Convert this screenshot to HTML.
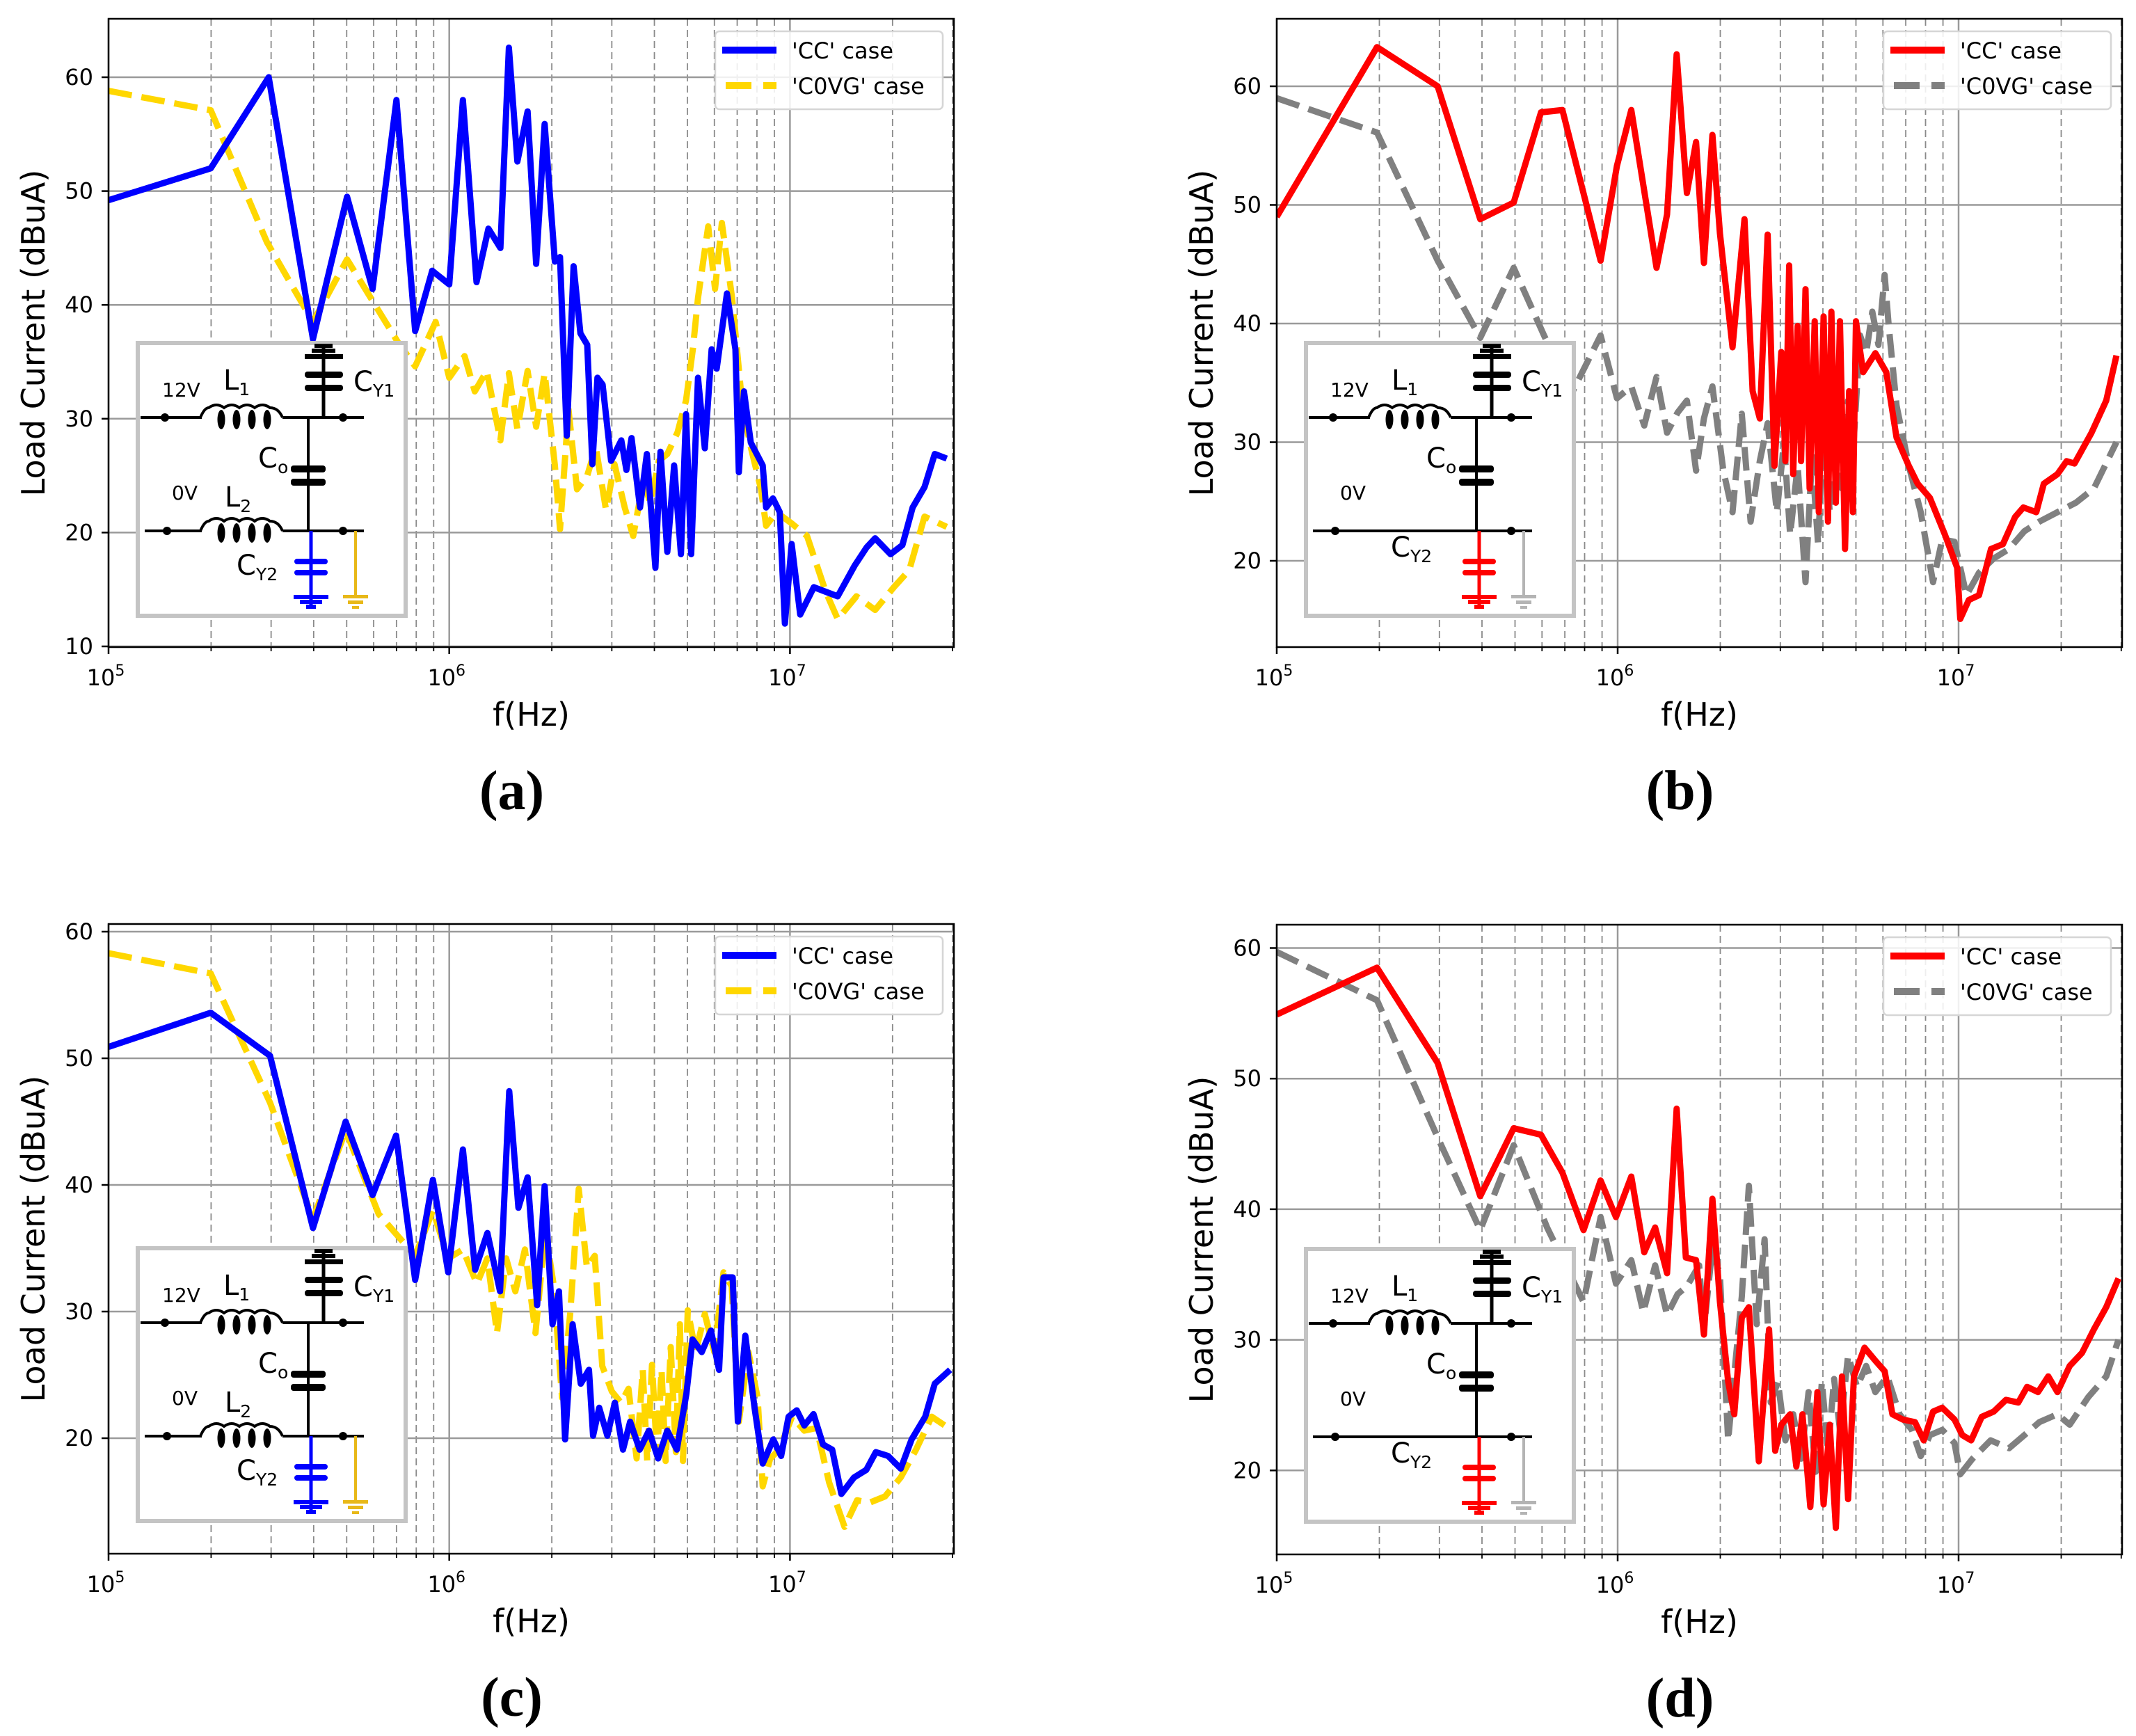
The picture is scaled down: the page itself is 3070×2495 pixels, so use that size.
<!DOCTYPE html>
<html><head><meta charset="utf-8"><style>
html,body{margin:0;padding:0;background:#fff;}
svg{display:block;}
text{font-family:"DejaVu Sans","Liberation Sans",sans-serif;}
</style></head><body>
<svg id="fig" xmlns="http://www.w3.org/2000/svg" width="3070" height="2495" viewBox="0 0 3070 2495">
<rect x="0" y="0" width="3070" height="2495" fill="#fff"/>
</svg>
<script>
// ---- data (log10 frequency, dBuA) ----
const aCCf=[5,5.30,5.47,5.60,5.70,5.775,5.845,5.90,5.95,6.0,6.04,6.08,6.115,6.15,6.175,6.20,6.23,6.255,6.28,6.31,6.325,6.345,6.365,6.385,6.405,6.42,6.435,6.45,6.475,6.505,6.52,6.535,6.56,6.58,6.605,6.62,6.64,6.66,6.68,6.695,6.71,6.73,6.75,6.77,6.785,6.815,6.84,6.85,6.865,6.885,6.92,6.93,6.95,6.97,6.985,7.005,7.03,7.07,7.105,7.14,7.19,7.225,7.25,7.295,7.33,7.36,7.395,7.425,7.46];
const aCCv=[49.2,52,60,37,49.5,41.4,58,37.7,43,41.8,58,42,46.7,45,62.6,52.6,57,43.6,55.9,43.8,44.2,28.5,43.4,37.5,36.5,26,33.6,33,26.3,28.1,25.5,28.3,22.2,26.9,16.9,27.1,18.3,25.9,18.1,30.4,18.1,33.6,27.4,36.1,34.4,41,36.1,25.3,32.4,27.9,25.9,22.2,23,21.8,12,19,12.8,15.2,14.8,14.4,17.1,18.7,19.5,18.1,18.9,22.2,24,26.9,26.5];
const aCVf=[5,5.30,5.465,5.60,5.70,5.85,5.90,5.96,6.0,6.045,6.075,6.11,6.15,6.175,6.20,6.23,6.255,6.28,6.31,6.325,6.35,6.375,6.405,6.43,6.46,6.485,6.515,6.54,6.57,6.59,6.615,6.64,6.67,6.695,6.715,6.73,6.76,6.78,6.80,6.83,6.86,6.885,6.915,6.93,6.96,7.005,7.05,7.105,7.14,7.195,7.25,7.305,7.35,7.395,7.46];
const aCVv=[58.8,57.1,45.5,38.5,44,36.7,34.6,38.5,33.6,35.5,32.4,34.2,28.1,34,29.1,34.2,29.3,34,25.9,20.3,30.8,23.8,25,27.5,22,26,22.2,19.7,24.6,22.6,26.3,26.9,28.8,31.6,36.1,40.6,46.9,41.4,47.2,40.6,31.2,27.5,23.8,20.6,21.8,20.8,19.7,14.8,12.4,14.4,13.2,15.2,16.7,21.4,20.5];
const bCCf=[5,5.294,5.472,5.597,5.695,5.775,5.838,5.95,5.998,6.04,6.114,6.145,6.173,6.203,6.23,6.253,6.278,6.30,6.337,6.372,6.396,6.417,6.44,6.46,6.48,6.492,6.503,6.515,6.528,6.538,6.551,6.563,6.578,6.59,6.604,6.617,6.627,6.64,6.652,6.667,6.679,6.69,6.699,6.72,6.756,6.788,6.818,6.854,6.88,6.916,6.96,6.996,7.005,7.03,7.06,7.095,7.13,7.166,7.19,7.228,7.25,7.29,7.317,7.34,7.39,7.433,7.463];
const bCCv=[49,63.3,60,48.8,50.2,57.8,58,45.3,53.3,58,44.7,49.2,62.7,51,55.3,45.1,55.9,47.6,38,48.8,34.3,32,47.5,28,37.6,28.4,44.9,27.3,39.8,28.4,42.9,26.1,40.2,24.1,40.6,23.3,41,24.9,40.2,21,34.3,24.1,40.2,35.9,37.5,35.9,30.4,28,26.5,25.3,22.2,19.4,15.1,16.7,17.1,21,21.4,23.7,24.5,24.1,26.5,27.3,28.4,28.2,30.8,33.5,37.3];
const bCVf=[5,5.294,5.472,5.597,5.695,5.784,5.865,5.95,5.998,6.04,6.078,6.114,6.145,6.176,6.203,6.23,6.253,6.278,6.31,6.337,6.364,6.39,6.417,6.44,6.467,6.488,6.506,6.528,6.551,6.57,6.588,6.604,6.622,6.64,6.658,6.676,6.693,6.711,6.729,6.747,6.765,6.783,6.795,6.818,6.854,6.889,6.925,6.952,6.988,7.023,7.06,7.103,7.148,7.193,7.237,7.29,7.344,7.397,7.463];
const bCVv=[59,56.1,45.3,38.8,44.7,39,34.1,39,33.7,34.7,31.4,35.5,30.8,32.5,33.5,27.6,32,34.7,27.6,24.1,32.4,23.3,28.4,31.6,24.1,30,22.2,28,18.2,28.8,21.4,31.2,24.1,33.1,26.1,33.5,30.4,39,37.5,41,38.2,44.1,39.8,33.1,28,24.1,18.2,21.8,21.6,17.1,19,20.2,21,22.5,23.3,24.1,24.9,26.1,30];
const cCCf=[5,5.30,5.474,5.60,5.696,5.775,5.844,5.90,5.952,5.997,6.04,6.076,6.112,6.149,6.176,6.203,6.23,6.258,6.28,6.303,6.322,6.34,6.362,6.386,6.41,6.422,6.44,6.464,6.486,6.51,6.531,6.559,6.586,6.613,6.64,6.668,6.696,6.714,6.741,6.768,6.792,6.805,6.832,6.847,6.869,6.896,6.92,6.951,6.974,6.996,7.02,7.042,7.069,7.097,7.124,7.151,7.188,7.224,7.252,7.288,7.325,7.357,7.397,7.425,7.47];
const cCCv=[50.9,53.6,50.2,36.6,45,39.2,43.9,32.5,40.4,33.1,42.8,33.3,36.2,31.6,47.4,38.2,40.6,30.5,39.9,29,31.6,19.9,29,24.3,25.4,20.2,22.4,20.2,22.8,19.1,21.3,19.1,20.6,18.4,20.6,19.1,23.5,27.8,26.8,28.5,25.4,32.7,32.7,21.3,28.1,22.4,18,19.9,18.6,21.7,22.2,21,21.9,19.5,19.1,15.6,16.9,17.5,18.9,18.6,17.6,19.9,21.7,24.3,25.4];
const cCVf=[5,5.30,5.474,5.60,5.696,5.793,5.90,5.952,5.997,6.04,6.081,6.112,6.14,6.167,6.194,6.222,6.253,6.282,6.307,6.331,6.355,6.38,6.404,6.427,6.449,6.477,6.504,6.526,6.55,6.568,6.581,6.595,6.61,6.623,6.635,6.65,6.665,6.677,6.686,6.70,6.723,6.75,6.778,6.805,6.829,6.85,6.878,6.905,6.92,6.942,6.969,7.006,7.042,7.078,7.115,7.16,7.197,7.233,7.279,7.325,7.37,7.416,7.46];
const cCVv=[58.3,56.7,46.5,37.3,44.3,37.7,34.4,38,34.2,34.9,32.2,34.2,28.3,34.2,31.6,34.9,28.3,36.4,32,23.2,29.8,39.7,33.5,34.4,25.7,23.7,22.8,23.9,18.4,25.4,18.2,25.8,18.6,25.4,18.2,27.2,18.9,29,18.2,30.1,26.8,29.8,26.8,33.1,32,21.3,26.8,23.2,16.2,18.4,19.1,21.7,20.6,20.8,16.5,13,15.1,14.9,15.4,16.9,19.1,21.7,20.9];
const dCCf=[5,5.294,5.472,5.597,5.695,5.775,5.838,5.90,5.95,5.995,6.04,6.078,6.11,6.145,6.173,6.2,6.23,6.253,6.278,6.30,6.324,6.342,6.364,6.385,6.414,6.444,6.462,6.48,6.506,6.524,6.542,6.565,6.586,6.604,6.622,6.64,6.658,6.676,6.693,6.724,6.756,6.783,6.806,6.836,6.872,6.898,6.925,6.952,6.988,7.011,7.037,7.068,7.103,7.139,7.175,7.201,7.233,7.263,7.29,7.326,7.362,7.397,7.433,7.469];
const dCCv=[54.9,58.5,51.2,41,46.2,45.7,42.8,38.4,42.2,39.4,42.5,36.7,38.6,35.1,47.7,36.3,36.1,30.4,40.8,32.9,26.8,24.3,31.7,32.5,20.7,30.8,21.5,23.5,24.3,20.3,24.3,17.2,26,17.4,23.5,15.6,27.2,17.8,27.2,29.4,28.4,27.6,24.3,23.9,23.7,22.3,24.5,24.8,23.9,22.7,22.3,24.1,24.5,25.4,25.2,26.4,26,27.2,26,28,29,30.8,32.5,34.7];
const dCVf=[5,5.294,5.472,5.597,5.695,5.793,5.90,5.95,5.995,6.04,6.075,6.11,6.145,6.176,6.203,6.239,6.253,6.278,6.30,6.324,6.346,6.364,6.385,6.408,6.431,6.449,6.47,6.492,6.515,6.538,6.56,6.581,6.599,6.617,6.635,6.652,6.676,6.702,6.729,6.756,6.791,6.827,6.863,6.889,6.916,6.952,6.988,7.005,7.041,7.094,7.148,7.193,7.237,7.29,7.326,7.38,7.433,7.469];
const dCVv=[59.7,56,45.5,38.4,44.9,38.6,32.9,39.4,34.3,36.1,32.1,35.7,31.9,33.5,34.1,35.7,30.8,37.1,34.9,22.3,28.4,33.3,41.8,31.2,37.7,25.2,26.8,22.3,24.3,20.9,26,19.9,26.8,21.5,27,23.1,28.8,26.4,28,26,27.2,24.3,23.1,21.1,22.7,23.1,22.1,19.7,20.9,22.3,21.7,22.7,23.7,24.3,23.5,25.6,27.2,30];
const aTicks=[10,20,30,40,50,60];
const bTicks=[20,30,40,50,60];
const cTicks=[20,30,40,50,60];
const dTicks=[20,30,40,50,60];
const decadeExps=[5,6,7];
const seriesNames=["'CC' case","'C0VG' case"];

const NS='http://www.w3.org/2000/svg';
const svg=document.getElementById('fig');
function el(tag,attrs,parent){const e=document.createElementNS(NS,tag);for(const k in attrs)e.setAttribute(k,attrs[k]);(parent||svg).appendChild(e);return e;}

const panels=[
 {id:'a',L:156,R:1371,T:27,B:930,dec:489.7,y0:111,k:16.36,ticks:aTicks,f1:aCCf,v1:aCCv,f2:aCVf,v2:aCVv,c1:'#0000ff',c2:'#ffd700',gnd:'#e8b818',l2:true,dx:0,dy:0,lab:'(a)'},
 {id:'b',L:1835,R:3050,T:27,B:930,dec:490,y0:124,k:17.05,ticks:bTicks,f1:bCCf,v1:bCCv,f2:bCVf,v2:bCVv,c1:'#ff0000',c2:'#808080',gnd:'#b4b4b4',l2:false,dx:1679,dy:0,lab:'(b)'},
 {id:'c',L:156,R:1371,T:1328,B:2233,dec:489.7,y0:1339,k:18.2,ticks:cTicks,f1:cCCf,v1:cCCv,f2:cCVf,v2:cCVv,c1:'#0000ff',c2:'#ffd700',gnd:'#e8b818',l2:true,dx:0,dy:1301,lab:'(c)'},
 {id:'d',L:1835,R:3050,T:1329,B:2234,dec:490,y0:1362.5,k:18.77,ticks:dTicks,f1:dCCf,v1:dCCv,f2:dCVf,v2:dCVv,c1:'#ff0000',c2:'#808080',gnd:'#b4b4b4',l2:false,dx:1679,dy:1302,lab:'(d)'}
];

panels.forEach(p=>{
 const X=lf=>p.L+(lf-5)*p.dec;
 const Y=v=>p.y0-(v-60)*p.k;
 const g=el('g',{});
 
 
 const cp=el('clipPath',{id:'clip'+p.id},g);
 el('rect',{x:p.L,y:p.T,width:p.R-p.L,height:p.B-p.T},cp);
 // grid
 const grid=el('g',{},g);
 
 
 decadeExps.forEach(e=>{
  for(let m=1;m<10;m++){
   const lf=e+Math.log10(m);const x=X(lf);
   if(x<p.L-1||x>p.R+1)continue;
   if(m===1){el('line',{x1:x,y1:p.T,x2:x,y2:p.B,stroke:'#9a9a9a','stroke-width':2.5},grid);
     el('line',{x1:x,y1:p.B,x2:x,y2:p.B+10,stroke:'#000','stroke-width':2.5},grid);}
   else{el('line',{x1:x,y1:p.T,x2:x,y2:p.B,stroke:'#8a8a8a','stroke-width':1.8,'stroke-dasharray':'10,6'},grid);
     el('line',{x1:x,y1:p.B,x2:x,y2:p.B+6,stroke:'#000','stroke-width':1.8},grid);}
  }
 });
 p.ticks.forEach(v=>{const y=Y(v);
  el('line',{x1:p.L,y1:y,x2:p.R,y2:y,stroke:'#9a9a9a','stroke-width':2.5},grid);
  el('line',{x1:p.L-10,y1:y,x2:p.L,y2:y,stroke:'#000','stroke-width':2.5},grid);
  const t=el('text',{x:p.L-22,y:y+11,'font-size':32,'text-anchor':'end',fill:'#000'},grid);t.textContent=v;
  
  
 });
 decadeExps.forEach(e=>{const x=X(e);
  const t=el('text',{x:x-4,y:p.B+55,'font-size':32,'text-anchor':'middle',fill:'#000'},g);
  
  
  t.textContent='10';
  const s=el('tspan',{'font-size':22,dy:-14},t);s.textContent=String(e);
 });
 // series
 function series(fs,vs,col,dash,name){
  const n=Math.min(fs.length,vs.length);let d='';
  for(let i=0;i<n;i++)d+=(i?'L':'M')+X(fs[i]).toFixed(1)+','+Y(vs[i]).toFixed(1);
  const a={d:d,fill:'none',stroke:col,'stroke-width':9,'stroke-linejoin':'round','clip-path':'url(#clip'+p.id+')'};
  if(dash)a['stroke-dasharray']=dash;
  const path=el('path',a,g);
  
  
 }
 series(p.f2,p.v2,p.c2,'34,14','series-c0vg-'+p.id);
 series(p.f1,p.v1,p.c1,null,'series-cc-'+p.id);
 // inset circuit
 const ig=el('g',{transform:'translate('+p.dx+','+p.dy+')'},g);
 
 
 el('rect',{x:198,y:493,width:385,height:392,fill:'#fff',stroke:'#c4c4c4','stroke-width':6},ig);
 const K='#000';
 function coil(x1,y){let d='M'+(x1-12)+','+y+' Q'+(x1-6)+','+(y-14)+' '+x1+','+(y-14);
  for(let i=0;i<4;i++){const cx=x1+11+i*22;d+=' Q'+(cx)+','+(y-22)+' '+(cx+11)+','+(y-14);}
  d+=' Q'+(x1+100)+','+(y-14)+' '+(x1+106)+','+y;
  el('path',{d:d,fill:'none',stroke:K,'stroke-width':4},ig);
  for(let i=0;i<4;i++)el('ellipse',{cx:x1+18+i*22,cy:y+3,rx:5.5,ry:14,fill:K},ig);}
 // 12V rail
 el('line',{x1:202,y1:600,x2:290,y2:600,stroke:K,'stroke-width':4},ig);
 el('line',{x1:406,y1:600,x2:523,y2:600,stroke:K,'stroke-width':4},ig);
 coil(300,600);
 el('circle',{cx:237,cy:600,r:6,fill:K},ig);el('circle',{cx:493,cy:600,r:6,fill:K},ig);
 // CY1
 el('line',{x1:465,y1:600,x2:465,y2:500,stroke:K,'stroke-width':5},ig);
 el('rect',{x:452,y:494,width:26,height:6,fill:K},ig);
 el('rect',{x:448,y:501,width:34,height:6,fill:K},ig);
 el('rect',{x:438,y:509,width:55,height:7,fill:K},ig);
 el('rect',{x:438,y:534,width:55,height:9,rx:4,fill:K},ig);
 el('rect',{x:438,y:553,width:55,height:9,rx:4,fill:K},ig);
 // Co
 el('line',{x1:443,y1:600,x2:443,y2:763,stroke:K,'stroke-width':4},ig);
 el('rect',{x:418,y:669,width:50,height:10,rx:4,fill:K},ig);
 el('rect',{x:418,y:688,width:50,height:10,rx:4,fill:K},ig);
 // 0V rail
 if(p.l2){el('line',{x1:208,y1:763,x2:290,y2:763,stroke:K,'stroke-width':4},ig);
  el('line',{x1:406,y1:763,x2:523,y2:763,stroke:K,'stroke-width':4},ig);coil(300,763);}
 else el('line',{x1:208,y1:763,x2:523,y2:763,stroke:K,'stroke-width':4},ig);
 el('circle',{cx:240,cy:763,r:6,fill:K},ig);el('circle',{cx:493,cy:763,r:6,fill:K},ig);
 // CY2
 const C1=p.c1;
 el('line',{x1:447,y1:763,x2:447,y2:873,stroke:C1,'stroke-width':5},ig);
 el('rect',{x:423,y:803,width:48,height:8,rx:4,fill:C1},ig);
 el('rect',{x:423,y:819,width:48,height:8,rx:4,fill:C1},ig);
 el('rect',{x:422,y:855,width:50,height:6,fill:C1},ig);
 el('rect',{x:431,y:862,width:32,height:6,fill:C1},ig);
 el('rect',{x:440,y:869,width:14,height:6,fill:C1},ig);
 // ground wire
 const G=p.gnd;
 el('line',{x1:511,y1:763,x2:511,y2:857,stroke:G,'stroke-width':4},ig);
 el('rect',{x:493,y:855,width:36,height:5,fill:G},ig);
 el('rect',{x:500,y:863,width:22,height:5,fill:G},ig);
 el('rect',{x:506,y:871,width:10,height:4,fill:G},ig);
 function lbl(x,y,main,sub,fs){const t=el('text',{x:x,y:y,'font-size':fs,fill:K},ig);t.textContent=main;
  if(sub){const s=el('tspan',{'font-size':Math.round(fs*0.62),dy:8},t);s.textContent=sub;}return t;}
 lbl(233,570,'12V',null,28);
 lbl(321,560,'L','1',40);
 lbl(508,562,'C','Y1',40);
 lbl(371,672,'C','o',40);
 lbl(247,718,'0V',null,28);
 if(p.l2){lbl(323,728,'L','2',40);lbl(340,826,'C','Y2',40);}
 else lbl(320,800,'C','Y2',40);
 // legend
 const lg=el('g',{},g);
 
 
 const lx=p.R-343,ly=p.T+18;
 el('rect',{x:lx,y:ly,width:327,height:112,rx:6,fill:'#fff','fill-opacity':0.85,stroke:'#d6d6d6','stroke-width':2.5},lg);
 el('line',{x1:lx+10,y1:ly+27,x2:lx+88,y2:ly+27,stroke:p.c1,'stroke-width':10},lg);
 el('line',{x1:lx+15,y1:ly+78,x2:lx+88,y2:ly+78,stroke:p.c2,'stroke-width':10,'stroke-dasharray':'37,17'},lg);
 const t1=el('text',{x:lx+110,y:ly+39,'font-size':32,fill:'#000'},lg);t1.textContent=seriesNames[0];
 const t2=el('text',{x:lx+110,y:ly+90,'font-size':32,fill:'#000'},lg);t2.textContent=seriesNames[1];
 // frame
 el('rect',{x:p.L,y:p.T,width:p.R-p.L,height:p.B-p.T,fill:'none',stroke:'#000','stroke-width':2.5},g);
 // axis titles
 const cx=(p.L+p.R)/2;
 const xt=el('text',{x:cx,y:p.B+113,'font-size':46,'text-anchor':'middle',fill:'#000'},g);xt.textContent='f(Hz)';
 
 
 const cy=(p.T+p.B)/2, yx=p.L-92;
 const yt=el('text',{x:yx,y:cy,'font-size':46,'text-anchor':'middle',fill:'#000',transform:'rotate(-90 '+yx+' '+cy+')'},g);yt.textContent='Load Current (dBuA)';
 
 
 const pl=el('text',{x:cx-28,y:p.B+233,'font-size':80,'font-weight':'bold','text-anchor':'middle',fill:'#000',style:'font-family:"Liberation Serif",serif'},g);pl.textContent=p.lab;
 
 
});
</script>
</body></html>
